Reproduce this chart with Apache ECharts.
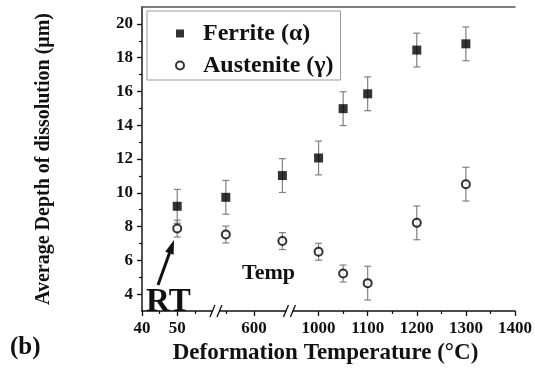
<!DOCTYPE html>
<html>
<head>
<meta charset="utf-8">
<script src="https://cdn.jsdelivr.net/npm/echarts@6/dist/echarts.min.js"></script>
<style>html,body{margin:0;padding:0;background:#fff;}#c{width:535px;height:370px;}</style>
</head>
<body>
<div id="c"></div>
<script>
// ---- data ----
const temps = [50, 500, 700, 1000, 1050, 1100, 1200, 1300];
const ferriteDepth = [9.2, 9.73, 11.02, 12.06, 14.98, 15.86, 18.45, 18.82];
const ferriteErr = [1.0, 1.0, 1.0, 1.0, 1.0, 1.0, 1.0, 1.0];
const austeniteDepth = [7.88, 7.53, 7.14, 6.51, 5.22, 4.65, 8.22, 10.51];
const austeniteErr = [0.5, 0.5, 0.5, 0.5, 0.5, 1.0, 1.0, 1.0];
const xTickTemps = [40, 50, 600, 1000, 1100, 1200, 1300, 1400];
const xTickLabels = ['40', '50', '600', '1000', '1100', '1200', '1300', '1400'];
const xMinorTemps = [45, 55, 500, 1050, 1150, 1250, 1350];
const yTickValues = [4, 6, 8, 10, 12, 14, 16, 18, 20];
const yMinorValues = [5, 7, 9, 11, 13, 15, 17, 19];
const breakTemps = [61, 725];

// broken temperature axis: three linear segments
function tempToAxis(t) {
  if (t <= 100) return (t - 40) * 3.55;
  if (t < 900) return 113 + (t - 600) * 0.285;
  return 178 + (t - 1000) * 0.495;
}

const FONT = 'Liberation Serif';
const xMajor = xTickTemps.map(tempToAxis);
const xMinor = xMinorTemps.map(tempToAxis);

const ferritePts = temps.map((t, i) => [tempToAxis(t), ferriteDepth[i]]);
const austenitePts = temps.map((t, i) => [tempToAxis(t), austeniteDepth[i]]);
const ferriteErrData = temps.map((t, i) => [tempToAxis(t), ferriteDepth[i], ferriteErr[i]]);
const austeniteErrData = temps.map((t, i) => [tempToAxis(t), austeniteDepth[i], austeniteErr[i]]);

function errRender(params, api) {
  const x = api.value(0), y = api.value(1), e = api.value(2);
  const top = api.coord([x, y + e]);
  const bot = api.coord([x, y - e]);
  const hw = 3.5;
  const st = { stroke: '#808080', lineWidth: 1.2 };
  return {
    type: 'group',
    children: [
      { type: 'line', shape: { x1: top[0], y1: top[1], x2: bot[0], y2: bot[1] }, style: st },
      { type: 'line', shape: { x1: top[0] - hw, y1: top[1], x2: top[0] + hw, y2: top[1] }, style: st },
      { type: 'line', shape: { x1: bot[0] - hw, y1: bot[1], x2: bot[0] + hw, y2: bot[1] }, style: st }
    ]
  };
}

function breakRender(params, api) {
  const p = api.coord([api.value(0), 3]);
  const st = { stroke: '#111', lineWidth: 1.3 };
  return {
    type: 'group',
    children: [
      { type: 'rect', shape: { x: p[0] - 3, y: p[1] - 3, width: 6, height: 6 }, style: { fill: '#fff' } },
      { type: 'line', shape: { x1: p[0] - 6, y1: p[1] + 6, x2: p[0] - 1, y2: p[1] - 6 }, style: st },
      { type: 'line', shape: { x1: p[0] + 1, y1: p[1] + 6, x2: p[0] + 6, y2: p[1] - 6 }, style: st }
    ]
  };
}

const chart = echarts.init(document.getElementById('c'), null, { renderer: 'canvas' });
const labelStyle = { fontFamily: FONT, fontWeight: 'bold', fontSize: 17, color: '#111' };

chart.setOption({
  animation: false,
  backgroundColor: '#fff',
  grid: { left: 142, right: 17, top: 7, bottom: 56 },
  legend: {
    data: ['Ferrite (α)', 'Austenite (γ)'],
    orient: 'vertical', left: 147, top: 11,
    padding: [9, 7, 1, 28],
    itemWidth: 8, itemHeight: 8, itemGap: 5,
    borderColor: '#999', borderWidth: 1,
    textStyle: { fontFamily: FONT, fontWeight: 'bold', fontSize: 24, lineHeight: 27, color: '#111', padding: [0, 0, 0, 14] }
  },
  xAxis: [
    {
      type: 'value', min: 0, max: 376, position: 'bottom',
      name: 'Deformation Temperature (°C)', nameLocation: 'middle', nameGap: 31,
      nameTextStyle: { fontFamily: FONT, fontWeight: 'bold', fontSize: 23, color: '#111', padding: [0, 6, 0, 0] },
      axisLine: { show: true, lineStyle: { color: '#111', width: 1.5 } },
      axisTick: { show: true, inside: false, length: 5, customValues: xMajor, lineStyle: { color: '#111', width: 1.3 } },
      axisLabel: {
        customValues: xMajor, margin: 9, ...labelStyle,
        formatter: v => {
          let best = 0;
          xMajor.forEach((m, i) => { if (Math.abs(m - v) < Math.abs(xMajor[best] - v)) best = i; });
          return xTickLabels[best];
        }
      },
      splitLine: { show: false }
    },
    {
      type: 'value', min: 0, max: 376, position: 'bottom',
      axisLine: { show: false },
      axisTick: { show: true, length: 3, customValues: xMinor, lineStyle: { color: '#111', width: 1.2 } },
      axisLabel: { show: false },
      splitLine: { show: false }
    },
    {
      type: 'value', min: 0, max: 376, position: 'top',
      axisLine: { show: true, lineStyle: { color: '#555', width: 1.5 } },
      axisTick: { show: false }, axisLabel: { show: false }, splitLine: { show: false }
    }
  ],
  yAxis: [
    {
      type: 'value', min: 3, max: 21, position: 'left',
      name: 'Average Depth of dissolution (μm)', nameLocation: 'middle', nameGap: 88, nameRotate: 90,
      nameTextStyle: { fontFamily: FONT, fontWeight: 'bold', fontSize: 20, color: '#111' },
      axisLine: { show: true, lineStyle: { color: '#111', width: 1.5 } },
      axisTick: { show: true, length: 5, customValues: yTickValues, lineStyle: { color: '#111', width: 1.3 } },
      axisLabel: { customValues: yTickValues, margin: 9, ...labelStyle },
      splitLine: { show: false }
    },
    {
      type: 'value', min: 3, max: 21, position: 'left',
      axisLine: { show: false },
      axisTick: { show: true, length: 3, customValues: yMinorValues, lineStyle: { color: '#111', width: 1.2 } },
      axisLabel: { show: false }, splitLine: { show: false }
    },
    {
      type: 'value', min: 3, max: 21, position: 'right',
      axisLine: { show: true, lineStyle: { color: '#555', width: 1.5 } },
      axisTick: { show: false }, axisLabel: { show: false }, splitLine: { show: false }
    }
  ],
  series: [
    { type: 'custom', name: 'ferriteErr', renderItem: errRender, data: ferriteErrData, z: 3, clip: false },
    { type: 'custom', name: 'austeniteErr', renderItem: errRender, data: austeniteErrData, z: 3, clip: false },
    {
      type: 'scatter', name: 'Ferrite (α)', data: ferritePts, symbol: 'rect', symbolSize: 9, z: 5,
      itemStyle: { color: '#000' }
    },
    {
      type: 'scatter', name: 'Austenite (γ)', data: austenitePts, symbol: 'circle', symbolSize: 8, z: 5,
      itemStyle: { color: '#fff', borderColor: '#000', borderWidth: 2 }
    },
    {
      type: 'custom', name: 'breaks', renderItem: breakRender, clip: false, z: 10, silent: true,
      data: breakTemps.map(t => [tempToAxis(t)])
    }
  ],
  graphic: [
    { type: 'text', left: 146, top: 286, style: { text: 'RT', font: 'bold 33px "Liberation Serif"', fill: '#111' } },
    { type: 'text', left: 242, top: 262, style: { text: 'Temp', font: 'bold 22px "Liberation Serif"', fill: '#111' } },
    { type: 'text', left: 10, top: 335, style: { text: '(b)', font: 'bold 25px "Liberation Serif"', fill: '#111' } },
    { type: 'line', shape: { x1: 158, y1: 285, x2: 169.5, y2: 253 }, style: { stroke: '#111', lineWidth: 3 } },
    { type: 'polygon', shape: { points: [[174, 240], [173.6, 254.7], [165.2, 251.7]] }, style: { fill: '#111' } }
  ]
});
</script>
</body>
</html>
